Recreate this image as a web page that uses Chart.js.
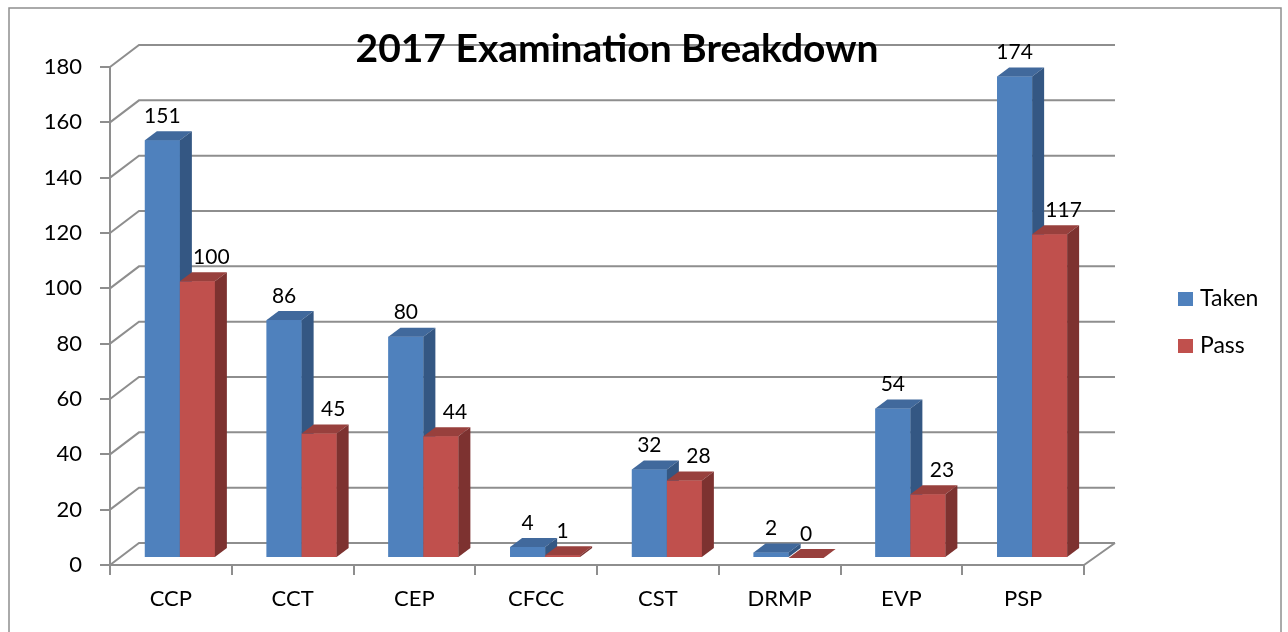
<!DOCTYPE html>
<html>
<head>
<meta charset="utf-8">
<script src="https://cdn.jsdelivr.net/npm/chart.js@4.4.1/dist/chart.umd.min.js"></script>
<style>
html,body{margin:0;padding:0;background:#fff;}
canvas{display:block;}
</style>
</head>
<body>
<canvas id="c" width="1288" height="632"></canvas>
<script>
// ---- data ----
const categories = ['CCP', 'CCT', 'CEP', 'CFCC', 'CST', 'DRMP', 'EVP', 'PSP'];
const takenValues = [151, 86, 80, 4, 32, 2, 54, 174];
const passValues = [100, 45, 44, 1, 28, 0, 23, 117];
const seriesNames = ['Taken', 'Pass'];
const yTickValues = [0, 20, 40, 60, 80, 100, 120, 140, 160, 180];
const titleText = '2017 Examination Breakdown';

// ---- style ----
const FONT = 'Lato, "Open Sans", sans-serif';
const GRID_COLOR = '#8e8e8e';
const faceColors = [
  { front: '#4F81BD', top: '#41699C', side: '#345783' },
  { front: '#C0504D', top: '#98403D', side: '#7D3230' }
];
const D = { barX: 9, barY: -7, sideX: 12, sideY: -9, wallXL: 29, wallXR: 31, wallY: -22 };

const threeD = {
  id: 'threeD',
  beforeDraw(chart) {
    const ctx = chart.ctx;
    ctx.save();
    ctx.fillStyle = '#ffffff';
    ctx.fillRect(0, 0, chart.width, chart.height);
    ctx.strokeStyle = '#8f8f8f';
    ctx.lineWidth = 1.5;
    ctx.strokeRect(9, 8, 1272, 700);
    ctx.restore();
  },
  beforeDatasetsDraw(chart) {
    const ctx = chart.ctx;
    const ys = chart.scales.y;
    const L = chart.chartArea.left, R = chart.chartArea.right;
    ctx.save();
    ctx.strokeStyle = GRID_COLOR;
    ctx.lineWidth = 2;
    ctx.beginPath();
    yTickValues.forEach(v => {
      const yf = ys.getPixelForValue(v);
      ctx.moveTo(L, yf);
      ctx.lineTo(L + D.wallXL, yf + D.wallY);
      ctx.lineTo(R + D.wallXR, yf + D.wallY);
    });
    const y0 = ys.getPixelForValue(0);
    ctx.moveTo(R, y0);
    ctx.lineTo(R + D.wallXR, y0 + D.wallY);
    ctx.stroke();
    ctx.restore();
    ctx.save();
    ctx.translate(D.barX, D.barY);
  },
  afterDatasetsDraw(chart) {
    const ctx = chart.ctx;
    const n = categories.length;
    for (let i = 0; i < n; i++) {
      for (let d = 0; d < chart.data.datasets.length; d++) {
        const el = chart.getDatasetMeta(d).data[i];
        const p = el.getProps(['x', 'y', 'base', 'width'], true);
        const l = p.x - p.width / 2, r = p.x + p.width / 2;
        const c = faceColors[d];
        ctx.fillStyle = c.front;
        ctx.fillRect(l, p.y, p.width, p.base - p.y);
        ctx.fillStyle = c.top;
        ctx.beginPath();
        ctx.moveTo(l, p.y);
        ctx.lineTo(r, p.y);
        ctx.lineTo(r + D.sideX, p.y + D.sideY);
        ctx.lineTo(l + D.sideX, p.y + D.sideY);
        ctx.closePath();
        ctx.fill();
        ctx.fillStyle = c.side;
        ctx.beginPath();
        ctx.moveTo(r, p.y);
        ctx.lineTo(r + D.sideX, p.y + D.sideY);
        ctx.lineTo(r + D.sideX, p.base + D.sideY);
        ctx.lineTo(r, p.base);
        ctx.closePath();
        ctx.fill();
      }
    }
    // data labels
    ctx.fillStyle = '#000';
    ctx.font = '21px ' + FONT;
    ctx.textAlign = 'center';
    ctx.textBaseline = 'middle';
    chart.data.datasets.forEach((ds, d) => {
      chart.getDatasetMeta(d).data.forEach((el, i) => {
        const v = ds.data[i];
        const shift = (d === 1 && v >= 5) ? 14 : 0;
        ctx.fillText(String(v), el.x + shift, el.y - 24);
      });
    });
    ctx.restore();
  },
  afterDraw(chart) {
    const ctx = chart.ctx;
    ctx.save();
    ctx.fillStyle = '#000';
    ctx.font = 'bold 39px ' + FONT;
    ctx.textAlign = 'center';
    ctx.textBaseline = 'alphabetic';
    ctx.fillText(titleText, 617, 62);
    // legend
    ctx.font = '23px ' + FONT;
    ctx.textAlign = 'left';
    ctx.textBaseline = 'middle';
    chart.data.datasets.forEach((ds, d) => {
      const yy = 299 + d * 47;
      ctx.fillStyle = ds.backgroundColor;
      ctx.fillRect(1178, yy - 7, 15, 14);
      ctx.fillStyle = '#000';
      ctx.fillText(ds.label, 1200, yy);
    });
    ctx.restore();
  }
};

new Chart(document.getElementById('c'), {
  type: 'bar',
  data: {
    labels: categories,
    datasets: [
      { label: seriesNames[0], data: takenValues, backgroundColor: faceColors[0].front },
      { label: seriesNames[1], data: passValues, backgroundColor: faceColors[1].front }
    ]
  },
  options: {
    responsive: false,
    devicePixelRatio: 1,
    animation: false,
    categoryPercentage: 0.575,
    barPercentage: 1,
    layout: { padding: { left: 10, right: 204, top: 67, bottom: 7 } },
    plugins: { legend: { display: false }, title: { display: false }, tooltip: { enabled: false } },
    scales: {
      x: {
        afterFit: s => { s.height = 60; },
        grid: { offset: true, drawOnChartArea: false, drawTicks: true, tickLength: 10, color: GRID_COLOR, lineWidth: 2 },
        border: { color: GRID_COLOR, width: 2 },
        ticks: { color: '#000', font: { family: FONT, size: 22 }, padding: 11, maxRotation: 0 }
      },
      y: {
        min: 0, max: 180,
        afterFit: s => { s.width = 100; },
        afterBuildTicks: s => { s.ticks = yTickValues.map(v => ({ value: v })); },
        grid: { drawOnChartArea: false, drawTicks: true, tickLength: 10, color: GRID_COLOR, lineWidth: 2 },
        border: { color: GRID_COLOR, width: 2 },
        ticks: { color: '#000', font: { family: FONT, size: 22 }, padding: 18 }
      }
    }
  },
  plugins: [threeD]
});
</script>
</body>
</html>
